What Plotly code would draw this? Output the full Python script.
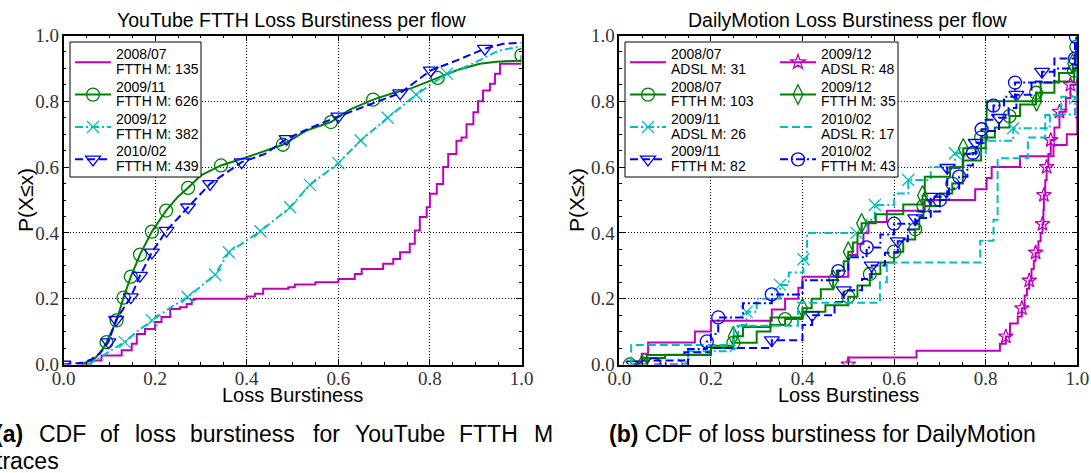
import plotly.graph_objects as go

# ---------------- data: left panel (YouTube FTTH) ----------------
yt0807_x = [0.03, 0.06, 0.083, 0.127, 0.149, 0.16, 0.178, 0.20, 0.214, 0.233, 0.254, 0.269, 0.28, 0.287, 0.40,
            0.418, 0.436, 0.491, 0.505, 0.55, 0.60, 0.636, 0.651, 0.698, 0.72, 0.735, 0.756, 0.767, 0.778, 0.793,
            0.80, 0.815, 0.829, 0.84, 0.858, 0.869, 0.88, 0.895, 0.905, 0.916, 0.931, 0.942, 0.953, 1.0]
yt0807_y = [0.0, 0.012, 0.027, 0.043, 0.063, 0.093, 0.108, 0.129, 0.144, 0.169, 0.174, 0.184, 0.197, 0.20, 0.207,
            0.215, 0.23, 0.235, 0.243, 0.25, 0.26, 0.275, 0.29, 0.306, 0.321, 0.341, 0.367, 0.407, 0.448, 0.478,
            0.519, 0.549, 0.60, 0.64, 0.68, 0.69, 0.73, 0.767, 0.80, 0.833, 0.853, 0.884, 0.914, 0.914]

yt0911_x = [0.04, 0.07, 0.085, 0.094, 0.116, 0.131, 0.147, 0.167, 0.193, 0.224, 0.25, 0.272, 0.30, 0.344, 0.40,
            0.44, 0.479, 0.53, 0.584, 0.625, 0.676, 0.72, 0.76, 0.817, 0.86, 0.909, 0.945, 1.0, 1.0]
yt0911_y = [0.0, 0.02, 0.045, 0.068, 0.134, 0.203, 0.267, 0.334, 0.404, 0.468, 0.51, 0.537, 0.575, 0.605, 0.63,
            0.65, 0.668, 0.711, 0.737, 0.775, 0.805, 0.825, 0.84, 0.871, 0.895, 0.914, 0.92, 0.924, 0.94]
yt0911_marks = [3, 4, 5, 6, 7, 8, 9, 11, 13, 16, 18, 20, 23, 28]

yt0912_x = [0.054, 0.08, 0.10, 0.134, 0.16, 0.193, 0.23, 0.271, 0.331, 0.361, 0.43, 0.495, 0.538, 0.60, 0.649,
            0.708, 0.77, 0.837, 0.87, 0.90, 0.95, 1.0]
yt0912_y = [0.0, 0.02, 0.04, 0.068, 0.10, 0.134, 0.17, 0.205, 0.273, 0.341, 0.405, 0.478, 0.546, 0.612, 0.681,
            0.75, 0.82, 0.884, 0.90, 0.919, 0.954, 0.967]
yt0912_marks = [3, 5, 7, 8, 9, 10, 11, 12, 13, 14, 15, 16, 17]

yt1002_x = [0.0, 0.04, 0.06, 0.08, 0.098, 0.115, 0.147, 0.167, 0.193, 0.225, 0.272, 0.32, 0.389, 0.44, 0.487,
            0.54, 0.60, 0.67, 0.735, 0.802, 0.86, 0.92, 0.96, 1.0]
yt1002_y = [0.0, 0.005, 0.015, 0.035, 0.068, 0.136, 0.205, 0.27, 0.341, 0.407, 0.478, 0.549, 0.615, 0.64, 0.686,
            0.72, 0.754, 0.79, 0.825, 0.894, 0.925, 0.96, 0.975, 0.978]
yt1002_marks = [0, 4, 5, 6, 7, 8, 9, 10, 11, 12, 14, 16, 18, 19, 21]

yt_labels = [('2008/07', 'FTTH M: 135'), ('2009/11', 'FTTH M: 626'),
             ('2009/12', 'FTTH M: 382'), ('2010/02', 'FTTH M: 439')]

# ---------------- data: right panel (DailyMotion) ----------------
dm_adsl0807_x = [0.049, 0.049, 0.063, 0.165, 0.20, 0.333, 0.362, 0.391, 0.40, 0.50, 0.52, 0.533, 0.544, 0.584,
                 0.667, 0.777, 0.802, 0.813, 0.875, 0.948, 0.977, 1.0]
dm_adsl0807_y = [0.0, 0.033, 0.067, 0.10, 0.133, 0.167, 0.20, 0.233, 0.267, 0.333, 0.367, 0.40, 0.433, 0.467,
                 0.50, 0.533, 0.567, 0.60, 0.633, 0.667, 0.70, 1.0]

dm_ftth0807_x = [0.023, 0.05, 0.10, 0.20, 0.249, 0.30, 0.33, 0.362, 0.40, 0.45, 0.50, 0.52, 0.547, 0.57, 0.60,
                 0.62, 0.646, 0.655, 0.664, 0.70, 0.727, 0.75, 0.79, 0.82, 0.852, 0.875, 0.91, 0.95, 0.993, 0.998, 1.0]
dm_ftth0807_y = [0.0, 0.02, 0.03, 0.05, 0.066, 0.10, 0.12, 0.138, 0.16, 0.18, 0.206, 0.24, 0.275, 0.31, 0.343,
                 0.38, 0.411, 0.45, 0.482, 0.52, 0.55, 0.62, 0.69, 0.72, 0.755, 0.79, 0.826, 0.86, 0.893, 0.966, 1.0]
dm_ftth0807_marks = [0, 4, 7, 10, 12, 14, 16, 18, 20, 22, 24, 26, 28, 29]

dm_adsl0911_x = [0.141, 0.15, 0.25, 0.26, 0.278, 0.30, 0.351, 0.37, 0.402, 0.41, 0.518, 0.54, 0.558, 0.60, 0.631,
                 0.68, 0.733, 0.80, 0.86, 0.94, 0.995, 1.0]
dm_adsl0911_y = [0.0, 0.04, 0.08, 0.12, 0.16, 0.20, 0.242, 0.28, 0.32, 0.40, 0.40, 0.44, 0.485, 0.52, 0.561,
                 0.60, 0.642, 0.68, 0.718, 0.76, 0.809, 1.0]
dm_adsl0911_marks = [0, 4, 6, 8, 10, 12, 14, 16, 18, 20]

dm_ftth0911_x = [0.031, 0.04, 0.142, 0.20, 0.333, 0.40, 0.421, 0.47, 0.49, 0.53, 0.551, 0.58, 0.608, 0.63, 0.646,
                 0.68, 0.716, 0.75, 0.778, 0.80, 0.829, 0.85, 0.867, 0.90, 0.923, 0.95, 0.995, 1.0]
dm_ftth0911_y = [0.0, 0.012, 0.037, 0.05, 0.074, 0.12, 0.15, 0.19, 0.226, 0.26, 0.301, 0.34, 0.375, 0.41, 0.445,
                 0.51, 0.598, 0.64, 0.674, 0.71, 0.75, 0.78, 0.82, 0.86, 0.89, 0.93, 0.99, 1.0]
dm_ftth0911_marks = [0, 4, 6, 8, 10, 12, 14, 15, 16, 18, 20, 22, 24]

dm_adslR0912_x = [0.50, 0.50, 0.649, 0.831, 0.844, 0.853, 0.87, 0.879, 0.885, 0.89, 0.895, 0.90, 0.905, 0.909,
                  0.915, 0.92, 0.924, 0.926, 0.927, 0.93, 0.933, 0.937, 0.942, 0.95, 0.961, 0.975, 0.985, 1.0]
dm_adslR0912_y = [0.0, 0.021, 0.042, 0.063, 0.085, 0.125, 0.146, 0.171, 0.21, 0.23, 0.255, 0.29, 0.315, 0.34,
                  0.375, 0.40, 0.427, 0.47, 0.515, 0.56, 0.60, 0.64, 0.682, 0.72, 0.768, 0.81, 0.85, 0.87]
dm_adslR0912_marks = [0, 4, 7, 10, 13, 16, 18, 20, 22, 24, 26]

dm_ftth0912_x = [0.05, 0.06, 0.20, 0.249, 0.27, 0.33, 0.40, 0.42, 0.44, 0.467, 0.475, 0.49, 0.50, 0.51, 0.52,
                 0.529, 0.56, 0.62, 0.662, 0.667, 0.722, 0.751, 0.80, 0.802, 0.911, 0.92, 0.96, 0.99, 1.0]
dm_ftth0912_y = [0.0, 0.029, 0.057, 0.086, 0.114, 0.143, 0.171, 0.20, 0.229, 0.257, 0.286, 0.314, 0.343, 0.371,
                 0.40, 0.429, 0.457, 0.486, 0.514, 0.571, 0.60, 0.657, 0.743, 0.80, 0.80, 0.857, 0.886, 0.914, 1.0]
dm_ftth0912_marks = [0, 3, 6, 9, 12, 15, 18, 21, 24, 27]

dm_adslR1002_x = [0.026, 0.026, 0.25, 0.39, 0.569, 0.584, 0.788, 0.817, 0.826, 0.892, 0.93, 0.965, 1.0]
dm_adslR1002_y = [0.0, 0.059, 0.118, 0.188, 0.25, 0.31, 0.376, 0.44, 0.627, 0.69, 0.758, 0.814, 1.0]

dm_ftth1002_x = [0.076, 0.15, 0.191, 0.20, 0.216, 0.27, 0.333, 0.40, 0.478, 0.50, 0.54, 0.57, 0.60, 0.65, 0.70,
                 0.72, 0.742, 0.76, 0.772, 0.78, 0.791, 0.80, 0.817, 0.84, 0.864, 0.95, 0.995, 0.997]
dm_ftth1002_y = [0.0, 0.047, 0.07, 0.093, 0.143, 0.186, 0.213, 0.256, 0.284, 0.326, 0.356, 0.395, 0.428, 0.465,
                 0.50, 0.535, 0.571, 0.605, 0.643, 0.674, 0.715, 0.744, 0.787, 0.814, 0.857, 0.90, 0.93, 0.996]
dm_ftth1002_marks = [0, 2, 4, 6, 8, 10, 12, 14, 16, 18, 20, 22, 24, 26, 27]

dm_labels = [('2008/07', 'ADSL M: 31'), ('2008/07', 'FTTH M: 103'), ('2009/11', 'ADSL M: 26'),
             ('2009/11', 'FTTH M: 82'), ('2009/12', 'ADSL R: 48'), ('2009/12', 'FTTH M: 35'),
             ('2010/02', 'ADSL R: 17'), ('2010/02', 'FTTH M: 43')]

tick_vals = [0.0, 0.2, 0.4, 0.6, 0.8, 1.0]
tick_text = ['0.0', '0.2', '0.4', '0.6', '0.8', '1.0']

# ---------------- styling helpers ----------------
W, H = 1091, 473
def px_x(p):
    return p / W
def px_y(p):
    return 1 - p / H

MAG, GRN, CYN, BLU = '#BF00BF', '#008000', '#00BFBF', '#0000FF'
DASH = '8px,4px'
DASHDOT = '8px,3px,2px,3px'
SANS = 'Liberation Sans'
SERIF = 'Liberation Serif'
LEG_BASE = 11.3     # legend base size (sets line pitch)
LEG_TEXT = 14       # legend glyph size

def leg_name(pair):
    return '<br>'.join('<span style="font-size:%spx">%s</span>' % (LEG_TEXT, s) for s in pair)

fig = go.Figure()

def add_series(x, y, label, color, dash, shape, symbol, msize, marks, xa, ya, legend):
    line = dict(color=color, width=2, dash=dash, shape=shape)
    fig.add_trace(go.Scatter(x=x, y=y, mode='lines', line=line, showlegend=False,
                             xaxis=xa, yaxis=ya, hoverinfo='skip'))
    marker = None
    if symbol:
        marker = dict(symbol=symbol, size=msize, color=color,
                      line=dict(color=color, width=1.3))
        fig.add_trace(go.Scatter(x=[x[i] for i in marks], y=[y[i] for i in marks], mode='markers',
                                 marker=marker, showlegend=False, xaxis=xa, yaxis=ya, hoverinfo='skip'))
    fig.add_trace(go.Scatter(x=[None], y=[None], mode='lines+markers' if symbol else 'lines',
                             line=dict(color=color, width=2, dash=dash), marker=marker, name=leg_name(label),
                             legend=legend, xaxis=xa, yaxis=ya, showlegend=True))

# left panel
add_series(yt0807_x, yt0807_y, yt_labels[0], MAG, 'solid', 'hv', None, 0, [], 'x', 'y', 'legend')
add_series(yt0911_x, yt0911_y, yt_labels[1], GRN, 'solid', 'linear', 'circle-open', 13,
           yt0911_marks, 'x', 'y', 'legend')
add_series(yt0912_x, yt0912_y, yt_labels[2], CYN, DASHDOT, 'linear', 'x-thin-open', 12,
           yt0912_marks, 'x', 'y', 'legend')
add_series(yt1002_x, yt1002_y, yt_labels[3], BLU, DASH, 'linear', 'triangle-down-open', 13,
           yt1002_marks, 'x', 'y', 'legend')

# right panel, column 1
add_series(dm_adsl0807_x, dm_adsl0807_y, dm_labels[0], MAG, 'solid', 'hv', None, 0, [],
           'x2', 'y2', 'legend2')
add_series(dm_ftth0807_x, dm_ftth0807_y, dm_labels[1], GRN, 'solid', 'hv', 'circle-open', 13,
           dm_ftth0807_marks, 'x2', 'y2', 'legend2')
add_series(dm_adsl0911_x, dm_adsl0911_y, dm_labels[2], CYN, DASHDOT, 'hv', 'x-thin-open', 12,
           dm_adsl0911_marks, 'x2', 'y2', 'legend2')
add_series(dm_ftth0911_x, dm_ftth0911_y, dm_labels[3], BLU, DASH, 'hv', 'triangle-down-open', 13,
           dm_ftth0911_marks, 'x2', 'y2', 'legend2')
# right panel, column 2
add_series(dm_adslR0912_x, dm_adslR0912_y, dm_labels[4], MAG, 'solid', 'hv', 'star-open', 11,
           dm_adslR0912_marks, 'x2', 'y2', 'legend3')
add_series(dm_ftth0912_x, dm_ftth0912_y, dm_labels[5], GRN, 'solid', 'hv', 'diamond-tall-open', 14,
           dm_ftth0912_marks, 'x2', 'y2', 'legend3')
add_series(dm_adslR1002_x, dm_adslR1002_y, dm_labels[6], CYN, DASH, 'hv', None, 0, [],
           'x2', 'y2', 'legend3')
add_series(dm_ftth1002_x, dm_ftth1002_y, dm_labels[7], BLU, DASHDOT, 'hv', 'circle-open', 13,
           dm_ftth1002_marks, 'x2', 'y2', 'legend3')

axis_common = dict(
    range=[0, 1], showline=True, linecolor='black', linewidth=1.5, mirror='ticks',
    ticks='inside', ticklen=6, tickwidth=1, tickcolor='black',
    tickvals=tick_vals, ticktext=tick_text, automargin=False,
    showgrid=True, gridcolor='black', griddash='1px,2px', gridwidth=1, zeroline=False,
    tickfont=dict(family=SERIF, size=19, color='#333333'),
    minor=dict(dtick=0.05, ticks='inside', ticklen=3, tickcolor='black', showgrid=False),
    fixedrange=True,
)

legend_common = dict(xanchor='left', yanchor='top', bgcolor='rgba(0,0,0,0)', borderwidth=0,
                     font=dict(family=SANS, size=LEG_BASE, color='black'), itemwidth=36,
                     tracegroupgap=0)

yd = [px_y(364.5), px_y(35.5)]
fig.update_layout(
    width=W, height=H, margin=dict(l=0, r=0, t=0, b=0, autoexpand=False),
    paper_bgcolor='white', plot_bgcolor='white',
    xaxis=dict(domain=[px_x(63.5), px_x(521.5)], anchor='y', ticklabelstandoff=-4, **axis_common),
    yaxis=dict(domain=yd, anchor='x', ticklabelstandoff=-1, **axis_common),
    xaxis2=dict(domain=[px_x(619.3), px_x(1077.3)], anchor='y2', ticklabelstandoff=-4, **axis_common),
    yaxis2=dict(domain=yd, anchor='x2', ticklabelstandoff=-1, **axis_common),
    legend=dict(x=px_x(70), y=px_y(41), **legend_common),
    legend2=dict(x=px_x(625), y=px_y(41), **legend_common),
    legend3=dict(x=px_x(775), y=px_y(41), **legend_common),
    showlegend=True,
)

fig.add_shape(type='rect', xref='paper', yref='paper', x0=px_x(70), x1=px_x(201), y0=px_y(177), y1=px_y(42),
              fillcolor='white', line=dict(color='black', width=1), layer='above')
fig.add_shape(type='rect', xref='paper', yref='paper', x0=px_x(625), x1=px_x(898), y0=px_y(177), y1=px_y(42),
              fillcolor='white', line=dict(color='black', width=1), layer='above')

def ann(text, x, y, size, xanchor='center', angle=0):
    fig.add_annotation(text=text, x=x, y=y, xref='paper', yref='paper', showarrow=False,
                       xanchor=xanchor, yanchor='middle', textangle=angle,
                       font=dict(family=SANS, size=size, color='black'))

ann('YouTube FTTH Loss Burstiness per flow', px_x(292.5), px_y(20), 19.5)
ann('DailyMotion Loss Burstiness per flow', px_x(848.3), px_y(20), 19.5)
ann('Loss Burstiness', px_x(292.5), px_y(395), 20)
ann('Loss Burstiness', px_x(848.3), px_y(395), 20)
ann('P(X≤x)', px_x(25), px_y(200), 21, angle=-90)
ann('P(X≤x)', px_x(576), px_y(200), 21, angle=-90)

caption_words = ['<b>(a)</b>', 'CDF', 'of', 'loss', 'burstiness', 'for', 'YouTube', 'FTTH', 'M']
caption_left = [-7, 36.7, 98, 133, 188, 310.7, 352.7, 456.7, 531.7]
for w, xl in zip(caption_words, caption_left):
    ann(w, px_x(xl), px_y(433.6), 23, xanchor='left')
ann('traces', px_x(-6), px_y(460.5), 23, xanchor='left')
ann('<b>(b)</b> CDF of loss burstiness for DailyMotion', px_x(607), px_y(433.6), 23, xanchor='left')

fig.write_html('out.html', config={'displayModeBar': False},
               post_script="document.body.style.margin='0px';")
